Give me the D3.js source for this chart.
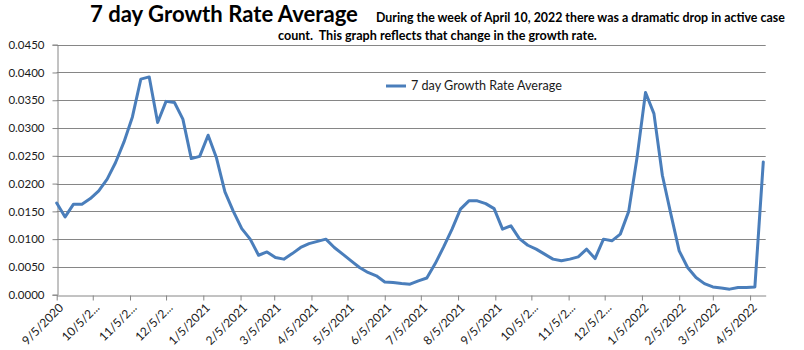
<!DOCTYPE html>
<html>
<head>
<meta charset="utf-8">
<script src="https://cdn.jsdelivr.net/npm/d3@7"></script>
<style>
    body { margin: 0; background: #fff; }
    svg { display: block; font-family: Lato, "Open Sans", sans-serif; }
</style>
</head>
<body>
<div id="growth-chart"></div>
<script>
// weekly 7 day growth rate average, one value per week starting 9/5/2020
const firstWeek = new Date(2020, 8, 5);
const growthRate = [
    0.0165, 0.0140, 0.0163, 0.0163, 0.0173, 0.0187, 0.0208, 0.0238, 0.0275, 0.0320,
    0.0388, 0.0392, 0.0310, 0.0348, 0.0346, 0.0316, 0.0245, 0.0249, 0.0287, 0.0246,
    0.0185, 0.0150, 0.0119, 0.0100, 0.0071, 0.0077, 0.0067, 0.0064, 0.0074, 0.0085,
    0.0092, 0.0096, 0.0100, 0.0085, 0.0073, 0.0061, 0.0049, 0.0040, 0.0034, 0.0023,
    0.0022, 0.0020, 0.0019, 0.0025, 0.0030, 0.0056, 0.0086, 0.0118, 0.0154, 0.0169,
    0.0169, 0.0164, 0.0155, 0.0118, 0.0124, 0.0101, 0.0089, 0.0082, 0.0073, 0.0064,
    0.0061, 0.0064, 0.0068, 0.0082, 0.0065, 0.0100, 0.0097, 0.0109, 0.0150, 0.0248,
    0.0364, 0.0326, 0.0215, 0.0146, 0.0079, 0.0049, 0.0031, 0.0020, 0.0014, 0.0012,
    0.0010, 0.0013, 0.0013, 0.0014, 0.0239
];
const weeks = d3.timeDay.range(firstWeek, d3.timeDay.offset(firstWeek, 7 * growthRate.length), 7);

// x tick labels as the chart shows them (long ones are cut off)
const tickLabels = [
    "9/5/2020", "10/5/2...", "11/5/2...", "12/5/2...", "1/5/2021", "2/5/2021", "3/5/2021",
    "4/5/2021", "5/5/2021", "6/5/2021", "7/5/2021", "8/5/2021", "9/5/2021", "10/5/2...",
    "11/5/2...", "12/5/2...", "1/5/2022", "2/5/2022", "3/5/2022", "4/5/2022"
];
const tickDates = tickLabels.map((t, i) => d3.timeMonth.offset(firstWeek, i));
const yTicks = d3.range(0, 0.04501, 0.005);

const seriesName = "7 day Growth Rate Average";
const titleText = "7 day Growth Rate Average";
const noteLines = [
    "During the week of April 10, 2022 there was a dramatic drop in active case",
    "count.  This graph reflects that change in the growth rate."
];

render();

function fitText(sel, w) {
    // scale the font so the text spans the same width as in the picture
    const len = sel.node().getComputedTextLength();
    const fs = parseFloat(sel.style("font-size"));
    sel.style("font-size", (fs * w / len) + "px");
}

function render() {
    const width = 804, height = 350;
    const margin = { top: 44.7, right: 38.3, bottom: 55.3, left: 56.7 };
    const data = weeks.map((d, i) => ({ date: d, value: growthRate[i] }));

    const svg = d3.select("#growth-chart").append("svg")
        .attr("width", width)
        .attr("height", height);

    const x = d3.scaleTime()
        .domain([firstWeek, new Date(2022, 3, 18)])
        .range([margin.left, width - margin.right]);

    const y = d3.scaleLinear()
        .domain([0, 0.045])
        .range([height - margin.bottom, margin.top]);

    // gridlines
    svg.append("g")
        .selectAll("line")
        .data(yTicks.slice(1))
        .join("line")
        .attr("x1", margin.left)
        .attr("x2", width - margin.right)
        .attr("y1", d => Math.round(y(d)) + 0.5)
        .attr("y2", d => Math.round(y(d)) + 0.5)
        .attr("stroke", "#868686");

    // y axis
    const yAxis = svg.append("g")
        .attr("transform", `translate(${Math.round(margin.left) + 0.5},0)`)
        .call(d3.axisLeft(y).tickValues(yTicks).tickFormat(d3.format(".4f")).tickSize(5).tickPadding(8));
    yAxis.select(".domain").attr("stroke", "#868686");
    yAxis.selectAll(".tick line").attr("stroke", "#868686");
    yAxis.selectAll("text")
        .style("font-size", "11.5px")
        .style("font-family", "Lato, sans-serif")
        .attr("fill", "#1a1a1a");

    // x axis
    const xAxis = svg.append("g")
        .attr("transform", `translate(0,${Math.round(height - margin.bottom) + 0.5})`)
        .call(d3.axisBottom(x).tickValues(tickDates).tickFormat((d, i) => tickLabels[i]).tickSize(5).tickSizeOuter(0));
    xAxis.select(".domain").attr("stroke", "#868686");
    xAxis.selectAll(".tick line").attr("stroke", "#868686");
    xAxis.selectAll("text")
        .style("font-size", "12px")
        .style("font-family", "Lato, sans-serif")
        .attr("fill", "#1a1a1a")
        .attr("text-anchor", "end")
        .attr("dy", "0.35em")
        .attr("transform", "translate(4,10) rotate(-45)")
        .attr("y", 0);

    // the series line
    svg.append("path")
        .datum(data)
        .attr("fill", "none")
        .attr("stroke", "#4A7EBB")
        .attr("stroke-width", 3)
        .attr("stroke-linejoin", "round")
        .attr("stroke-linecap", "round")
        .attr("d", d3.line().x(d => x(d.date)).y(d => y(d.value)));

    // legend
    svg.append("line")
        .attr("x1", 386).attr("x2", 406)
        .attr("y1", 86).attr("y2", 86)
        .attr("stroke", "#4A7EBB")
        .attr("stroke-width", 3);
    svg.append("text")
        .attr("x", 411).attr("y", 90)
        .style("font-size", "11px")
        .attr("fill", "#1a1a1a")
        .text(seriesName)
        .call(fitText, 151);

    // title and note
    svg.append("text")
        .attr("x", 90).attr("y", 22)
        .style("font-size", "22px")
        .style("font-weight", "bold")
        .attr("fill", "#000")
        .text(titleText)
        .call(fitText, 268);

    const notePos = [[376, 21.5, 409], [278, 40, 319]];
    noteLines.forEach((t, i) => {
        svg.append("text")
            .attr("x", notePos[i][0]).attr("y", notePos[i][1])
            .style("font-size", "11px")
            .style("font-weight", "bold")
            .attr("fill", "#000")
            .style("white-space", "pre")
            .text(t)
            .call(fitText, notePos[i][2]);
    });
}
</script>
</body>
</html>
